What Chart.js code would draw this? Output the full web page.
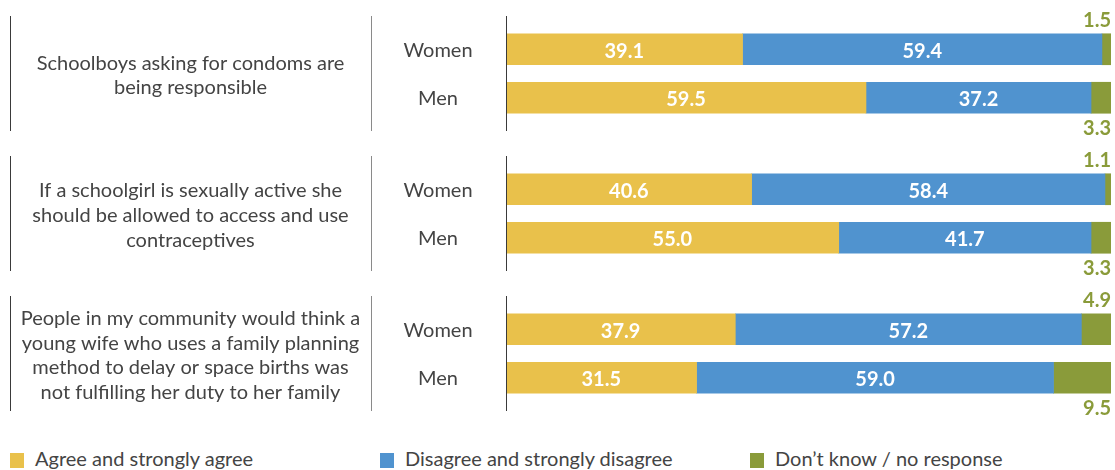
<!DOCTYPE html>
<html lang="en">
<head>
<meta charset="UTF-8">
<title>Attitudes towards contraception</title>
<script src="https://cdn.jsdelivr.net/npm/chart.js"></script>
<style>
    body {
        margin: 0;
        background: #fff;
        font-family: Lato, sans-serif;
    }
    .wrap {
        position: relative;
        width: 1115px;
        height: 470px;
    }
    .section {
        position: absolute;
        left: 0;
        width: 1115px;
        height: 140px;
    }
    .legend {
        position: absolute;
        top: 446px;
        left: 0;
        width: 1115px;
        height: 24px;
    }
    .legend-item {
        position: absolute;
        top: 0;
        font-size: 20px;
        color: #444;
        line-height: 24px;
        white-space: nowrap;
    }
    .legend-item span {
        display: inline-block;
        width: 14px;
        height: 15px;
        margin-right: 11px;
        vertical-align: -2px;
    }
</style>
</head>
<body>
<div class="wrap" id="wrap">
    <div class="section" style="top:0"><canvas id="c0" width="1115" height="140"></canvas></div>
    <div class="section" style="top:140px"><canvas id="c1" width="1115" height="140"></canvas></div>
    <div class="section" style="top:280px"><canvas id="c2" width="1115" height="140"></canvas></div>
    <div class="legend" id="legend"></div>
</div>

<script>
    // statements, split the way they wrap in the original
    const statements = [
        ["Schoolboys asking for condoms are", "being responsible"],
        ["If a schoolgirl is sexually active she", "should be allowed to access and use", "contraceptives"],
        ["People in my community would think a", "young wife who uses a family planning", "method to delay or space births was", "not fulfilling her duty to her family"]
    ];
    const groups = ["Women", "Men"];

    // percentages per statement: [Women, Men]
    const agree    = [[39.1, 59.5], [40.6, 55.0], [37.9, 31.5]];
    const disagree = [[59.4, 37.2], [58.4, 41.7], [57.2, 59.0]];
    const dontKnow = [[1.5, 3.3],   [1.1, 3.3],   [4.9, 9.5]];

    const seriesNames  = ["Agree and strongly agree", "Disagree and strongly disagree", "Don\u2019t know / no response"];
    const seriesColors = ["#E9C14B", "#5093CF", "#8A9B3A"];

    const FONT = "Lato, sans-serif";

    // draws the frame lines, statement text, group names and value labels
    const decorPlugin = {
        id: 'decor',
        afterDatasetsDraw(chart, args, opts) {
            const ctx = chart.ctx;
            const top = 16, bottom = 131;
            ctx.save();

            // vertical rules
            [[10.5, '#3a3a3a'], [371.5, '#8a8a8a'], [506.5, '#3a3a3a']].forEach(([x, c]) => {
                ctx.strokeStyle = c;
                ctx.lineWidth = 1;
                ctx.beginPath();
                ctx.moveTo(x, top);
                ctx.lineTo(x, bottom);
                ctx.stroke();
            });

            // statement text
            const lines = opts.lines;
            const lh = 24.7;
            const midY = (top + bottom) / 2 + 2;
            ctx.fillStyle = '#444';
            ctx.font = '20px ' + FONT;
            ctx.textAlign = 'center';
            ctx.textBaseline = 'middle';
            lines.forEach((t, i) => {
                ctx.fillText(t, 190.5, midY + (i - (lines.length - 1) / 2) * lh);
            });

            // group names (Women / Men)
            const yScale = chart.scales.y;
            ctx.font = '20px ' + FONT;
            chart.data.labels.forEach((lab, i) => {
                ctx.fillText(lab, 438, yScale.getPixelForValue(i) + 1);
            });

            // value labels
            ctx.font = 'bold 20px ' + FONT;
            chart.data.datasets.forEach((ds, di) => {
                const meta = chart.getDatasetMeta(di);
                meta.data.forEach((bar, i) => {
                    const v = ds.data[i].toFixed(1);
                    if (di < 2) {
                        ctx.fillStyle = '#fff';
                        ctx.textAlign = 'center';
                        ctx.fillText(v, (bar.base + bar.x) / 2, bar.y + 2);
                    } else {
                        ctx.fillStyle = seriesColors[2];
                        ctx.textAlign = 'right';
                        const y = i === 0 ? bar.y - 29 : bar.y + 31;
                        ctx.fillText(v, chart.chartArea.right, y);
                    }
                });
            });
            ctx.restore();
        }
    };

    statements.forEach((lines, s) => {
        const values = [agree[s], disagree[s], dontKnow[s]];
        new Chart(document.getElementById('c' + s), {
            type: 'bar',
            data: {
                labels: groups,
                datasets: seriesNames.map((name, k) => ({
                    label: name,
                    data: values[k],
                    backgroundColor: seriesColors[k],
                    borderWidth: 0,
                    barThickness: 31
                }))
            },
            plugins: [decorPlugin],
            options: {
                indexAxis: 'y',
                responsive: false,
                animation: false,
                layout: { padding: { top: 25, bottom: 18, right: 4, left: 0 } },
                plugins: {
                    legend: { display: false },
                    tooltip: { enabled: false },
                    decor: { lines: lines }
                },
                scales: {
                    x: {
                        stacked: true,
                        min: 0,
                        max: 100,
                        display: false
                    },
                    y: {
                        stacked: true,
                        grid: { display: false, drawTicks: false },
                        border: { display: false },
                        ticks: { display: false },
                        afterFit(scale) { scale.width = 506; }
                    }
                }
            }
        });
    });

    // legend
    const legend = document.getElementById('legend');
    const legendX = [10, 380, 750];
    seriesNames.forEach((name, k) => {
        const item = document.createElement('div');
        item.className = 'legend-item';
        item.style.left = legendX[k] + 'px';
        item.innerHTML = '<span style="background:' + seriesColors[k] + '"></span>' + name;
        legend.appendChild(item);
    });
</script>
</body>
</html>
